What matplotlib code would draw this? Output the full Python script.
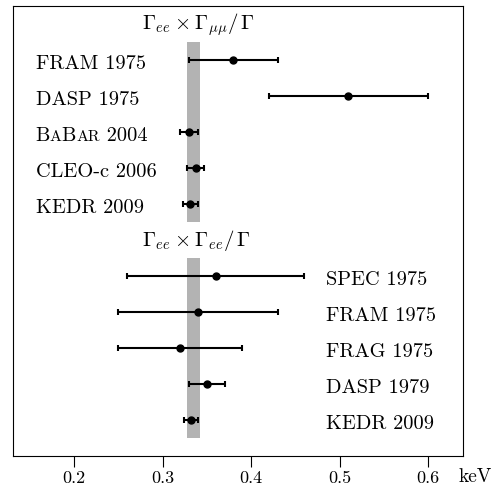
import matplotlib
matplotlib.use("Agg")
import matplotlib.pyplot as plt
from matplotlib.transforms import offset_copy

plt.rcParams['font.family'] = 'cmr10'
plt.rcParams['mathtext.fontset'] = 'cm'
plt.rcParams['axes.formatter.use_mathtext'] = True

# Data (keV)
mm_labels = ["FRAM 1975", "DASP 1975", "BABAR 2004", "CLEO-c 2006", "KEDR 2009"]
mm_values = [0.38, 0.51, 0.330, 0.338, 0.331]
mm_lo = [0.05, 0.09, 0.010, 0.010, 0.008]
mm_hi = [0.05, 0.09, 0.010, 0.009, 0.009]

ee_labels = ["SPEC 1975", "FRAM 1975", "FRAG 1975", "DASP 1979", "KEDR 2009"]
ee_values = [0.36, 0.34, 0.32, 0.35, 0.332]
ee_lo = [0.10, 0.09, 0.07, 0.02, 0.008]
ee_hi = [0.10, 0.09, 0.07, 0.02, 0.008]

band_lo, band_hi = 0.328, 0.342
xticks = [0.2, 0.3, 0.4, 0.5, 0.6]

fig = plt.figure(figsize=(4.93, 4.89), dpi=100)
ax = fig.add_axes([13/493, 1 - 457/489, 450/493, 450/489])
ax.set_xlim(0.131, 0.6395)
ax.set_ylim(12.5, 0)

mm_y = [1.5 + i for i in range(len(mm_values))]
ee_y = [7.5 + i for i in range(len(ee_values))]

ax.fill_between([band_lo, band_hi], 1.0, 6.0, color='#b3b3b3', lw=0, zorder=1)
ax.fill_between([band_lo, band_hi], 7.0, 12.0, color='#b3b3b3', lw=0, zorder=1)

ekw = dict(fmt='o', color='black', ms=5, elinewidth=1.5, capsize=2.5, capthick=1.5, zorder=3)
ax.errorbar(mm_values, mm_y, xerr=[mm_lo, mm_hi], **ekw)
ax.errorbar(ee_values, ee_y, xerr=[ee_lo, ee_hi], **ekw)

fs = 14.7
ax.text(0.3405, 0.5, r'$\Gamma_{ee}\times\Gamma_{\mu\mu}/\,\Gamma$', ha='center', va='center', fontsize=15)
ax.text(0.338, 6.5, r'$\Gamma_{ee}\times\Gamma_{ee}/\,\Gamma$', ha='center', va='center', fontsize=15)

lab_x = 0.1565
fig.canvas.draw()
r = fig.canvas.get_renderer()
for lab, y in zip(mm_labels, mm_y):
    if lab.startswith("BABAR"):
        pieces = [("B", fs), ("A", fs * 0.78), ("B", fs), ("AR", fs * 0.78), (" 2004", fs)]
        xoff = 0.0
        for s, size in pieces:
            t = ax.text(lab_x, y + 0.22, s, ha='left', va='baseline', fontsize=size,
                        transform=offset_copy(ax.transData, fig=fig, x=xoff, y=0, units='dots'))
            bb = t.get_window_extent(renderer=r)
            xoff += bb.width
    else:
        ax.text(lab_x, y + 0.22, lab, ha='left', va='baseline', fontsize=fs)

for lab, y in zip(ee_labels, ee_y):
    ax.text(0.485, y + 0.22, lab, ha='left', va='baseline', fontsize=fs)

ax.set_xticks(xticks)
ax.set_xticklabels([f"{v:.1f}" for v in xticks], fontsize=13)
ax.set_yticks([])
ax.tick_params(axis='x', direction='out', length=8, width=0.8, pad=2)
for s in ax.spines.values():
    s.set_linewidth(0.8)
fig.text(475/493, 1 - 477/489, 'keV', ha='center', va='center', fontsize=14)

fig.savefig('out.png', dpi=100)
